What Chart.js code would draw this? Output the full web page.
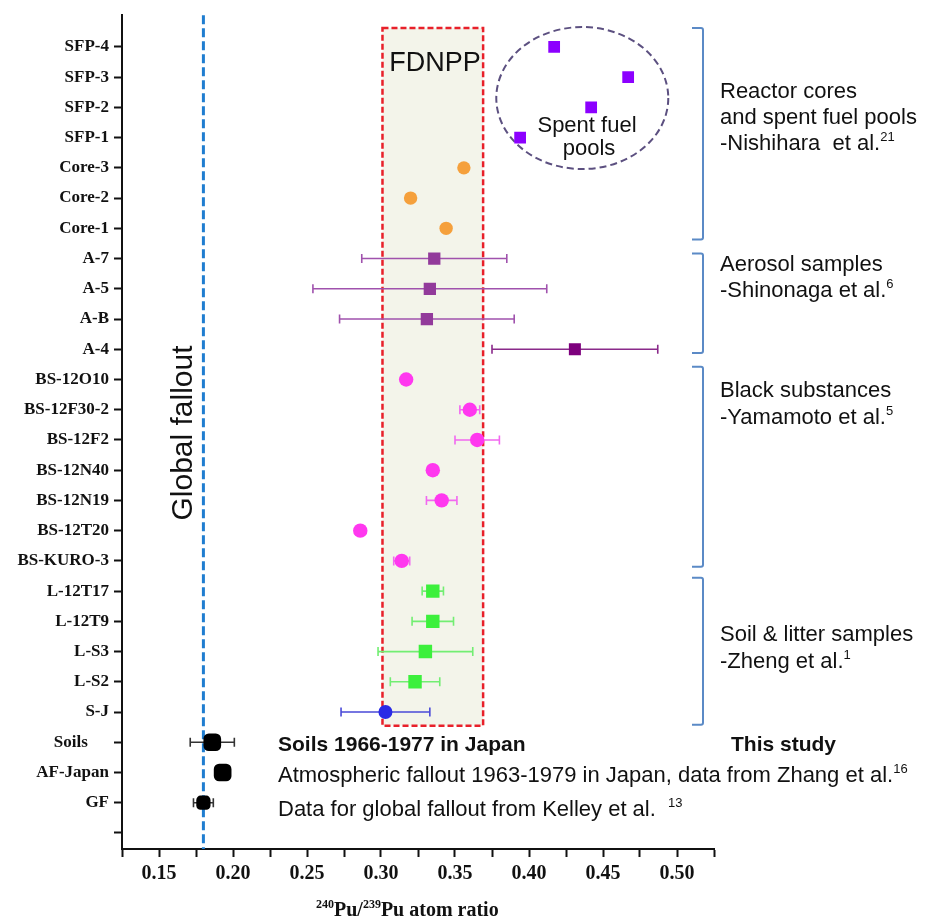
<!DOCTYPE html>
<html>
<head>
<meta charset="utf-8">
<script src="https://cdn.jsdelivr.net/npm/chart.js@4.4.1/dist/chart.umd.min.js"></script>
<style>
  html, body { margin: 0; padding: 0; background: #fff; }
  #wrap { width: 929px; height: 921px; position: relative; }
</style>
</head>
<body>
<div id="wrap"><canvas id="puChart"></canvas></div>
<script>
// samples as they appear on the y axis, top to bottom
const samples = ['SFP-4', 'SFP-3', 'SFP-2', 'SFP-1', 'Core-3', 'Core-2', 'Core-1',
  'A-7', 'A-5', 'A-B', 'A-4',
  'BS-12O10', 'BS-12F30-2', 'BS-12F2', 'BS-12N40', 'BS-12N19', 'BS-12T20', 'BS-KURO-3',
  'L-12T17', 'L-12T9', 'L-S3', 'L-S2', 'S-J',
  'Soils', 'AF-Japan', 'GF', ''];

// 240Pu/239Pu atom ratio and its +/- error (0 = no bar)
const ratios = [0.417, 0.467, 0.442, 0.394, 0.356, 0.320, 0.344,
  0.336, 0.333, 0.331, 0.431,
  0.317, 0.360, 0.365, 0.335, 0.341, 0.286, 0.314,
  0.335, 0.335, 0.330, 0.323, 0.303,
  0.186, 0.193, 0.180, null];
const ratioErr = [0, 0, 0, 0, 0, 0, 0,
  0.049, 0.079, 0.059, 0.056,
  0, 0.0067, 0.015, 0, 0.0103, 0, 0.0054,
  0.0072, 0.014, 0.032, 0.0167, 0.030,
  0.0149, 0, 0.0067, 0];

const xTicks = [0.125, 0.15, 0.175, 0.2, 0.225, 0.25, 0.275, 0.3, 0.325, 0.35,
  0.375, 0.4, 0.425, 0.45, 0.475, 0.5, 0.525];

const globalFallout = 0.18;
const fdnppRange = [0.301, 0.369];

const n = samples.length;
function yPos(i) { return n - 1 - i; }

function pointsFor(from, to) {
  const out = [];
  for (let i = from; i <= to; i++) {
    out.push({ x: ratios[i], y: yPos(i), err: ratioErr[i] });
  }
  return out;
}

function series(from, to, style, color, errColor, radius) {
  return {
    data: pointsFor(from, to),
    pointStyle: style,
    backgroundColor: color,
    borderColor: color,
    borderWidth: 0,
    pointRadius: radius,
    errColor: errColor,
    showLine: false
  };
}

const datasets = [
  series(0, 3, 'rect', '#8c00ff', '#8c00ff', 8.3),
  series(4, 6, 'circle', '#f5a03c', '#f5a03c', 6.7),
  series(7, 9, 'rect', '#923a9b', '#a052ad', 8.7),
  series(10, 10, 'rect', '#7d007d', '#8a2a8a', 8.5),
  series(11, 17, 'circle', '#ff38ef', '#f268f0', 7.2),
  series(18, 21, 'rect', '#3cf03c', '#72ee72', 9.5),
  series(22, 22, 'circle', '#2a2ae6', '#4a4ad8', 7),
  series(23, 24, 'rectRounded', '#000000', '#333333', 10.3),
  series(25, 25, 'rectRounded', '#000000', '#333333', 8.3)
];

function drawRich(ctx, parts, x, y) {
  // parts: [text, font, raise]
  let cx = x;
  parts.forEach(p => {
    ctx.font = p[1];
    ctx.fillText(p[0], cx, y - (p[2] || 0));
    cx += ctx.measureText(p[0]).width;
  });
}

const SANS = "'Liberation Sans', Arial, sans-serif";
const SERIF = "'Liberation Serif', 'Times New Roman', serif";

const decorPlugin = {
  id: 'decor',
  beforeDatasetsDraw(chart) {
    const { ctx, chartArea, scales: { x, y } } = chart;
    ctx.save();

    // FDNPP box
    const bx1 = x.getPixelForValue(fdnppRange[0]);
    const bx2 = x.getPixelForValue(fdnppRange[1]);
    const by1 = y.getPixelForValue(26.63);
    const by2 = y.getPixelForValue(3.55);
    ctx.fillStyle = '#f3f4ea';
    ctx.fillRect(bx1, by1, bx2 - bx1, by2 - by1);

    // global fallout line
    const gx = x.getPixelForValue(globalFallout);
    ctx.strokeStyle = '#1f7dd0';
    ctx.lineWidth = 3;
    ctx.setLineDash([9, 4]);
    ctx.beginPath();
    ctx.moveTo(gx, chartArea.top);
    ctx.lineTo(gx, chartArea.bottom);
    ctx.stroke();

    ctx.strokeStyle = '#e8202a';
    ctx.lineWidth = 2.5;
    ctx.setLineDash([6, 3]);
    ctx.strokeRect(bx1, by1, bx2 - bx1, by2 - by1);

    // spent fuel pool ellipse
    ctx.strokeStyle = '#5c5080';
    ctx.lineWidth = 2;
    ctx.setLineDash([7, 4]);
    ctx.beginPath();
    ctx.ellipse(x.getPixelForValue(0.436), y.getPixelForValue(24.31), 86, 71, 0, 0, Math.PI * 2);
    ctx.stroke();
    ctx.setLineDash([]);

    // error bars
    chart.data.datasets.forEach(ds => {
      ctx.strokeStyle = ds.errColor;
      ctx.lineWidth = 1.6;
      ds.data.forEach(p => {
        if (!p.err) return;
        const py = y.getPixelForValue(p.y);
        const l = x.getPixelForValue(p.x - p.err);
        const r = x.getPixelForValue(p.x + p.err);
        ctx.beginPath();
        ctx.moveTo(l, py); ctx.lineTo(r, py);
        ctx.moveTo(l, py - 4.5); ctx.lineTo(l, py + 4.5);
        ctx.moveTo(r, py - 4.5); ctx.lineTo(r, py + 4.5);
        ctx.stroke();
      });
    });

    // group brackets
    ctx.strokeStyle = '#5b8ac6';
    ctx.lineWidth = 2;
    const bxR = 703, bxL = 692;
    [[26.63, 19.63], [19.17, 15.88], [15.42, 8.81], [8.44, 3.58]].forEach(b => {
      const t = y.getPixelForValue(b[0]), bt = y.getPixelForValue(b[1]);
      ctx.beginPath();
      ctx.moveTo(bxL, t);
      ctx.lineTo(bxR - 2, t);
      ctx.quadraticCurveTo(bxR, t, bxR, t + 2);
      ctx.lineTo(bxR, bt - 2);
      ctx.quadraticCurveTo(bxR, bt, bxR - 2, bt);
      ctx.lineTo(bxL, bt);
      ctx.stroke();
    });
    ctx.restore();
  },
  afterDraw(chart) {
    const { ctx } = chart;
    ctx.save();
    ctx.fillStyle = '#111';
    ctx.textBaseline = 'middle';
    ctx.textAlign = 'center';
    ctx.font = '27px ' + SANS;
    ctx.fillText('FDNPP', 435, 64);
    ctx.font = '22px ' + SANS;
    ctx.fillText('Spent fuel', 587, 126);
    ctx.fillText('pools', 589, 149);

    // rotated label
    ctx.save();
    ctx.translate(184, 433);
    ctx.rotate(-Math.PI / 2);
    ctx.font = '30px ' + SANS;
    ctx.fillText('Global fallout', 0, 0);
    ctx.restore();

    ctx.textAlign = 'left';
    const reg = '22px ' + SANS, sup = '13px ' + SANS;
    const L = 720;
    drawRich(ctx, [['Reactor cores', reg]], L, 92);
    drawRich(ctx, [['and spent fuel pools', reg]], L, 118);
    drawRich(ctx, [['-Nishihara  et al.', reg], ['21', sup, 7]], L, 144);
    drawRich(ctx, [['Aerosol samples', reg]], L, 265);
    drawRich(ctx, [['-Shinonaga et al.', reg], ['6', sup, 7]], L, 291);
    drawRich(ctx, [['Black substances', reg]], L, 391);
    drawRich(ctx, [['-Yamamoto et al.', reg], ['5', sup, 7]], L, 418);
    drawRich(ctx, [['Soil & litter samples', reg]], L, 635);
    drawRich(ctx, [['-Zheng et al.', reg], ['1', sup, 7]], L, 662);

    const bold = 'bold 21px ' + SANS;
    drawRich(ctx, [['This study', bold]], 731, 745);
    drawRich(ctx, [['Soils 1966-1977 in Japan', bold]], 278, 745);
    drawRich(ctx, [['Atmospheric fallout 1963-1979 in Japan, data from Zhang et al.', '22px ' + SANS], ['16', sup, 7]], 278, 776);
    drawRich(ctx, [['Data for global fallout from Kelley et al.  ', '22px ' + SANS], ['13', sup, 7]], 278, 810);

    // x axis title
    ctx.textBaseline = 'alphabetic';
    const tb = 'bold 20px ' + SERIF, ts = 'bold 12px ' + SERIF;
    drawRich(ctx, [['240', ts, 8], ['Pu/', tb], ['239', ts, 8], ['Pu atom ratio', tb]], 316, 916);
    ctx.restore();
  }
};

new Chart(document.getElementById('puChart'), {
  type: 'scatter',
  data: { datasets: datasets },
  options: {
    responsive: true,
    maintainAspectRatio: false,
    animation: false,
    layout: { padding: { top: 14, right: 215, left: 0, bottom: 0 } },
    plugins: { legend: { display: false }, tooltip: { enabled: false } },
    scales: {
      x: {
        type: 'linear',
        min: 0.125,
        max: 0.525,
        afterBuildTicks: s => { s.ticks = xTicks.map(v => ({ value: v })); },
        afterFit: s => { s.height = 72; },
        grid: { drawOnChartArea: false, tickLength: 8, tickWidth: 2, tickColor: '#111' },
        border: { color: '#111', width: 2 },
        ticks: {
          autoSkip: false,
          maxRotation: 0,
          padding: 5,
          color: '#111',
          font: { family: SERIF, size: 20, weight: 'bold' },
          callback: v => Math.abs(v * 20 - Math.round(v * 20)) < 1e-6 ? v.toFixed(2) : ''
        }
      },
      y: {
        type: 'linear',
        min: -0.53,
        max: 27.05,
        afterBuildTicks: s => { s.ticks = samples.map((_, i) => ({ value: yPos(i) })); },
        afterFit: s => { s.width = 122; },
        grid: { drawOnChartArea: false, tickLength: 8, tickWidth: 2, tickColor: '#111' },
        border: { color: '#111', width: 2 },
        ticks: {
          autoSkip: false,
          padding: 5,
          color: '#111',
          font: { family: SERIF, size: 17, weight: 'bold' },
          callback: v => {
            const lab = samples[n - 1 - Math.round(v)];
            return lab === 'Soils' ? 'Soils     ' : lab;
          }
        }
      }
    }
  },
  plugins: [decorPlugin]
});
</script>
</body>
</html>
